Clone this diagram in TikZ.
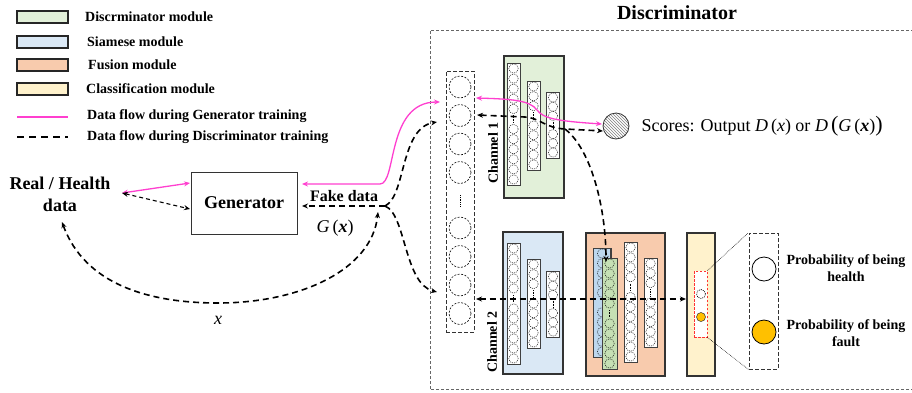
\documentclass[tikz,border=0pt]{standalone}
\usepackage{fontspec}
\setmainfont{Liberation Serif}
\usetikzlibrary{arrows.meta,patterns}
\definecolor{pinkc}{HTML}{FF3FCF}
\definecolor{gmod}{HTML}{E2F0D9}
\definecolor{bmod}{HTML}{DAE8F5}
\definecolor{omod}{HTML}{F8CBAD}
\definecolor{ymod}{HTML}{FFF2CC}
\definecolor{gcol}{HTML}{C5E0B4}
\definecolor{bcol}{HTML}{BDD7EE}
\definecolor{gold}{HTML}{FFC000}
\newcommand{\myfs}[2]{\fontsize{#1}{#2}\selectfont}
\newcommand{\ccol}[7]{%
  \draw[colbox, fill=#4] ({#1-#7},#2) rectangle ({#1+#7},#3);
  \pgfmathsetmacro{\cst}{(#3-#2-11)/(#5-1)}%
  \foreach \i in {1,...,#5}{%
    \pgfmathsetmacro{\cy}{#2+5.5+(\i-1)*\cst}%
    \ifnum\i=#6\relax
      \draw[densely dotted, line width=0.6pt] (#1,\cy-3.5) -- (#1,\cy+3.5);
    \else
      \draw[smallc] (#1,\cy) circle (4.7pt);
    \fi
  }%
}
\begin{document}
\begin{tikzpicture}[x=1pt,y=-1pt,
  dflow/.style={draw=black, line width=1.6pt, dash pattern=on 6pt off 4pt},
  gflow/.style={draw=pinkc, line width=1.3pt},
  tipd/.style={-{Stealth[length=6pt,width=5pt]}},
  tipdd/.style={{Stealth[length=6pt,width=5pt]}-{Stealth[length=6pt,width=5pt]}},
  modbox/.style={draw=black!80, line width=1.1pt},
  colbox/.style={draw=black!75, line width=0.8pt},
  smallc/.style={draw=black, line width=0.45pt, dash pattern=on 1pt off 1pt},
  bigc/.style={draw=black, line width=0.6pt, dash pattern=on 2pt off 1.5pt},
  lbl/.style={font=\myfs{14}{16}\bfseries, anchor=west, inner sep=0pt},
  legbox/.style={draw=black!85, line width=1.2pt}
]
\useasboundingbox (0,0) rectangle (912,392);

% ---------- legend ----------
\draw[legbox, fill=gmod] (17,11) rectangle (68,23);
\node[lbl] (l1) at (85,17) {Discrminator module};
\draw[legbox, fill=bmod] (17,36) rectangle (68,48);
\node[lbl] (l2) at (87,42) {Siamese module};
\draw[legbox, fill=omod] (17,59) rectangle (68,71);
\node[lbl] (l3) at (88,65) {Fusion module};
\draw[legbox, fill=ymod] (17,83) rectangle (68,95);
\node[lbl] (l4) at (86,89) {Classification module};
\draw[draw=pinkc, line width=2.4pt] (17,117) -- (68,117);
\node[lbl] (l5) at (87,116) {Data flow during Generator training};
\draw[dflow, dash pattern=on 7pt off 5pt] (17,137) -- (68,137);
\node[lbl] (l6) at (87,137) {Data flow during Discriminator training};

% ---------- left part ----------
\node[font=\myfs{18}{22}\bfseries, align=center] (real) at (60,194) {Real / Health\\data};
\node[draw=black!80, line width=0.9pt, minimum width=106pt, minimum height=62pt,
      font=\myfs{18}{20}\bfseries] (gen) at (244,203) {Generator};
\node[font=\myfs{16}{18}\bfseries] (fake) at (344,196) {Fake data};
\node[font=\myfs{18}{20}] (gx) at (335,228) {\textit{G}\,(\textbf{\textit{x}})};
\node[font=\myfs{18}{20}] (xl) at (218,320) {\textit{x}};

% ---------- discriminator frame ----------
\draw[draw=black!60, line width=0.7pt, dash pattern=on 3pt off 2pt] (430,389) -- (430,30) -- (918,30) -- (918,389) -- cycle;
\node[font=\myfs{20}{22}\bfseries] (dtitle) at (677,13) {Discriminator};

% input column
\node[draw=black!80, line width=0.9pt, dash pattern=on 4pt off 2pt,
      minimum width=28pt, minimum height=261pt, inner sep=0pt] (incol) at (460,201.5) {};
\foreach \yy in {87,115.5,144,172.5,228,256.5,285,313.5}
  \draw[bigc] (460,\yy) circle (11pt);
\draw[densely dotted, line width=0.8pt] (460,195) -- (460,206);

% channel 1
\node[modbox, fill=gmod, minimum width=60pt, minimum height=142pt, inner sep=0pt] (ch1) at (534,127) {};
\ccol{513.5}{63}{185}{white}{12}{6}{6.5}
\ccol{533.5}{81}{170}{white}{9}{4}{6.5}
\ccol{553}{92}{158}{white}{7}{4}{6.5}
\node[rotate=90, font=\myfs{14}{16}\bfseries] (ch1l) at (493,153) {Channel 1};

% channel 2
\node[modbox, fill=bmod, minimum width=60pt, minimum height=142pt, inner sep=0pt] (ch2) at (533,303) {};
\ccol{513.5}{243}{364}{white}{12}{6}{6.5}
\ccol{533.5}{259}{348}{white}{9}{4}{6.5}
\ccol{553}{271}{337}{white}{7}{4}{6.5}
\node[rotate=90, font=\myfs{14}{16}\bfseries] (ch2l) at (492,342) {Channel 2};

% fusion
\node[modbox, fill=omod, minimum width=79pt, minimum height=143pt, inner sep=0pt] (fus) at (625.5,304.5) {};
\draw[colbox, fill=bcol] (594,248) rectangle (611,357);
\ccol{602}{248}{357}{bcol}{11}{6}{8.5}
\ccol{609.5}{258}{369}{gcol}{11}{6}{7.5}
\ccol{630.5}{242}{362}{white}{12}{5}{6.5}
\ccol{650.5}{258}{347}{white}{9}{4}{6.5}

% classification
\node[modbox, fill=ymod, minimum width=28pt, minimum height=143pt, inner sep=0pt] (cls) at (701,304.5) {};
\node[draw=red!80, fill=white, line width=0.9pt, dash pattern=on 2.5pt off 1.5pt, minimum width=13pt,
      minimum height=66pt, inner sep=0pt] (red) at (700.5,304) {};
\draw[smallc, line width=0.6pt] (701,294) circle (4.5pt);
\draw[draw=black!80, line width=0.5pt, fill=gold] (701,317) circle (4.5pt);

% zoom
\node[draw=black!80, line width=0.9pt, dash pattern=on 4pt off 2pt, minimum width=29pt,
      minimum height=136pt, inner sep=0pt] (zr) at (763.5,301) {};
\draw[densely dotted, line width=0.6pt] (red.north east) -- (zr.north west);
\draw[densely dotted, line width=0.6pt] (red.south east) -- (zr.south west);
\node[circle, draw=black, line width=0.8pt, fill=white, minimum size=24pt, inner sep=0pt] (ph) at (764,269) {};
\node[circle, draw=black, line width=0.8pt, fill=gold, minimum size=24pt, inner sep=0pt] (pf) at (764,332) {};
\node[font=\myfs{14}{17}\bfseries, align=center] (tph) at (846,268) {Probability of being\\health};
\node[font=\myfs{14}{17}\bfseries, align=center] (tpf) at (846,333) {Probability of being\\fault};

% scores
\node[circle, draw=black!80, line width=0.8pt, minimum size=26pt, inner sep=0pt,
      preaction={fill=white}, pattern=north west lines, pattern color=gray] (sc) at (616,126) {};
\node[font=\myfs{18}{20}, anchor=west] (sct) at (638,126)
  {Scores: Output \textit{D}\,(\textit{x}) or \textit{D}\,{\myfs{22}{22}(}\textit{G}\,(\textbf{\textit{x}}){\myfs{22}{22})}};

% ---------- coordinates ----------
\coordinate (rdp) at (122,193);
\coordinate (gl1) at (190,183);
\coordinate (gl2) at (190,209);
\coordinate (gpin) at (302,184);
\coordinate (gdash) at (302,206);
\coordinate (fork) at (385,206);
\coordinate (pbend) at (380,184);
\coordinate (inTopP) at (440,102);
\coordinate (inTopD) at (437,122);
\coordinate (inBotD) at (437,292);
\coordinate (xstart) at (62,222);
\coordinate (xbot) at (218,303);
\coordinate (xend) at (378,212);
\coordinate (c1p) at (476,98);
\coordinate (scp) at (602,124);
\coordinate (c1d) at (477,115);
\coordinate (scd) at (603,131);
\coordinate (c1split) at (565,129);
\coordinate (fusin) at (606,262);
\coordinate (c2l) at (476,299);
\coordinate (c2r) at (686,299);

% ---------- flows ----------
\draw[gflow, tipdd] (rdp) -- (gl1);
\draw[dflow, line width=1.1pt, dash pattern=on 4pt off 3pt, tipdd] (rdp) -- (gl2);
\draw[gflow, tipdd] (gpin) -- (pbend) .. controls (397,184) and (386,102) .. (inTopP);
\draw[dflow, tipd] (fork) -- (gdash);
\draw[dflow, tipd] (fork) .. controls (406,196) and (400,128) .. (inTopD);
\draw[dflow, tipd] (fork) .. controls (406,214) and (404,284) .. (inBotD);
\draw[dflow, tipdd] (xstart) .. controls (85,285) and (150,303) .. (xbot)
   .. controls (300,303) and (372,270) .. (xend);

\draw[gflow, tipdd] (c1p) .. controls (510,99) and (530,100) .. (537,110)
   .. controls (543,118) and (555,121) .. (scp);
\draw[dflow, tipd] (c1split) .. controls (592,150) and (606,210) .. (fusin);
\draw[dflow, tipdd] (c1d) -- (525,117) .. controls (540,118) and (545,128) .. (c1split) -- (scd);
\draw[dflow, tipdd] (c2l) -- (c2r);
\end{tikzpicture}
\end{document}
